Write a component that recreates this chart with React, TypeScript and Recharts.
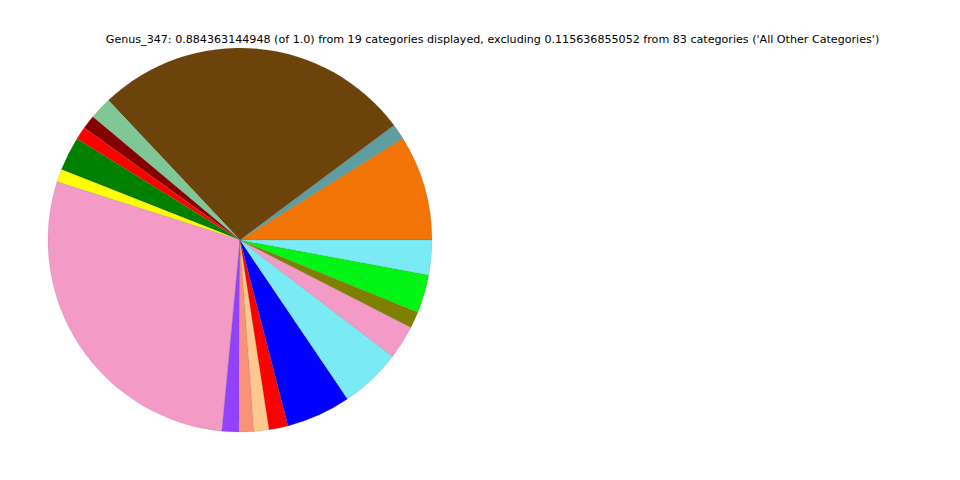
import { PieChart, Pie, Cell } from 'recharts';

// Abundance fractions per category, counterclockwise from 3 o'clock
const categories = [
  'Cat 1', 'Cat 2', 'Cat 3', 'Cat 4', 'Cat 5', 'Cat 6', 'Cat 7', 'Cat 8', 'Cat 9', 'Cat 10',
  'Cat 11', 'Cat 12', 'Cat 13', 'Cat 14', 'Cat 15', 'Cat 16', 'Cat 17', 'Cat 18', 'Cat 19',
];
const fractions = [
  0.0786, 0.0115, 0.2373, 0.0167, 0.0103, 0.0096, 0.0253, 0.0096, 0.2511, 0.0125,
  0.0111, 0.0111, 0.0142, 0.0481, 0.0457, 0.0251, 0.0123, 0.0285, 0.0258,
];
const colors = [
  '#F27405', '#5F9EA0', '#6B430B', '#80C796', '#850000', '#FF0000', '#008000', '#FFFF00', '#F49AC6', '#9440FF',
  '#F99377', '#FFC88E', '#FF0000', '#0000FF', '#7AEBF4', '#F49AC6', '#808000', '#00F514', '#7AEBF4',
];

const title =
  "Genus_347: 0.884363144948 (of 1.0) from 19 categories displayed, excluding 0.115636855052 from 83 categories ('All Other Categories')";

const data = categories.map((name, i) => ({ name, value: fractions[i] }));

export default function App() {
  return (
    <div style={{ position: 'absolute', left: 0, top: 0, width: 960, height: 480, background: '#fff' }}>
      <div
        style={{
          position: 'absolute',
          left: 0,
          top: 33,
          width: 985,
          textAlign: 'center',
          fontFamily: '"DejaVu Sans", sans-serif',
          fontSize: 11.12,
          color: '#000',
          whiteSpace: 'nowrap',
        }}
      >
        {title}
      </div>
      <PieChart width={960} height={480} margin={{ top: 0, right: 0, bottom: 0, left: 0 }}>
        <Pie
          data={data}
          dataKey="value"
          cx={240}
          cy={240}
          outerRadius={192}
          startAngle={0}
          endAngle={360}
          stroke="rgba(90,90,90,0.35)"
          strokeWidth={0.4}
          isAnimationActive={false}
        >
          {data.map((entry, index) => (
            <Cell key={`cell-${index}`} fill={colors[index]} />
          ))}
        </Pie>
      </PieChart>
    </div>
  );
}
